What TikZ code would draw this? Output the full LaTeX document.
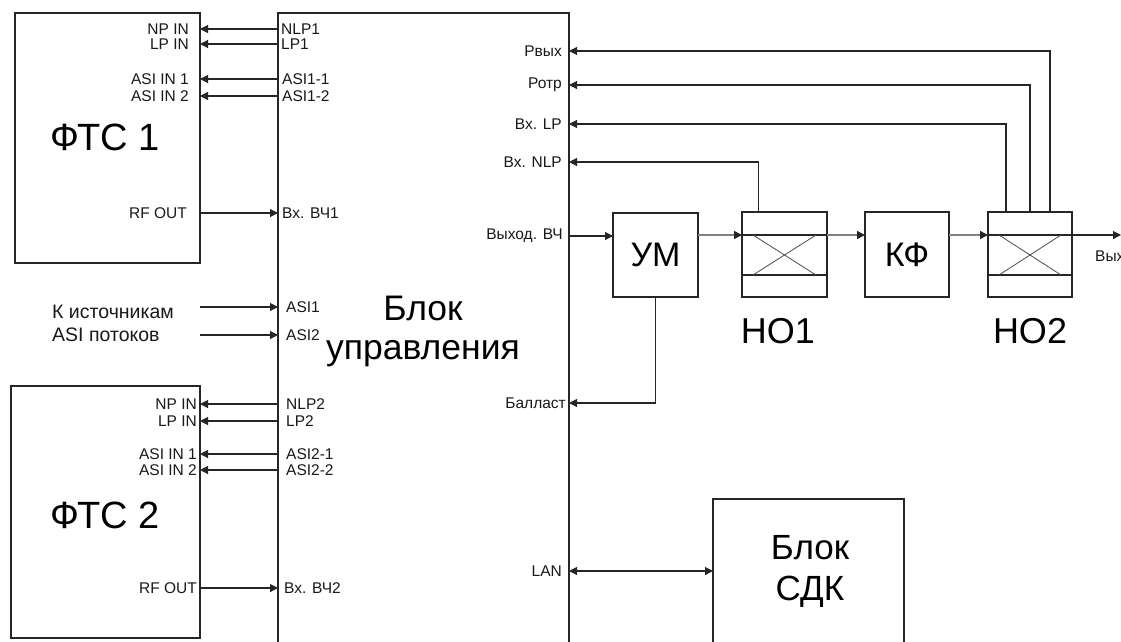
\documentclass[tikz,border=0pt]{standalone}
\usepackage{fontspec}
\setmainfont{Liberation Sans}
\usetikzlibrary{arrows.meta}
\begin{document}
\begin{tikzpicture}[x=1pt,y=-1pt,
  ln/.style={draw=black!85, line width=1.1pt},
  box/.style={draw=black!85, line width=1.1pt, inner sep=0pt, outer sep=0pt, anchor=north west},
  lbl/.style={font=\fontsize{15.5}{17}\selectfont, inner sep=0pt, text=black!90},
  mid/.style={font=\fontsize{19.5}{23}\selectfont, inner sep=0pt, text=black!90, align=left},
  big/.style={font=\fontsize{36}{39}\selectfont, align=center, inner sep=0pt, text=black},
  arr/.style={ln, -{Triangle[length=8pt,width=8pt]}},
  rf/.style={draw=gray, line width=1.6pt, -{Triangle[length=8pt,width=8pt,color=black!85]}},
  xl/.style={draw=gray!60!black, line width=0.8pt},
]
\useasboundingbox (0,0) rectangle (1121,641);
\clip (0,0) rectangle (1121,641);
\fill[white] (0,0) rectangle (1121,641);

% boxes
\node[box, minimum width=185pt, minimum height=250pt] (ftc1) at (15,13) {};
\node[big, font=\fontsize{38}{40}\selectfont] (ftc1t) at (105,137) {ФТС 1};
\node[box, minimum width=189pt, minimum height=252pt] (ftc2) at (11,386) {};
\node[big, font=\fontsize{38}{40}\selectfont] (ftc2t) at (105,515) {ФТС 2};
\node[box, minimum width=291pt, minimum height=680pt] (ctl) at (278,13) {};
\node[big, font=\fontsize{35.5}{39}\selectfont] (ctlt) at (423,331) {Блок\\управления};

\node[box, minimum width=85pt, minimum height=84pt, font=\fontsize{34}{38}\selectfont] (um) at (613,213) {УМ};
\node[box, minimum width=85pt, minimum height=85pt] (ho1) at (742,212) {};
\node[box, minimum width=84pt, minimum height=85pt, font=\fontsize{34}{38}\selectfont] (kf) at (865,212) {КФ};
\node[box, minimum width=84pt, minimum height=85pt] (ho2) at (988,212) {};
\node[box, minimum width=191pt, minimum height=200pt] (sdk) at (713,499) {};
\node[big, font=\fontsize{35}{41}\selectfont] (sdkt) at (810,571) {Блок\\СДК};

\node[big] (ho1t) at (778,331) {НО1};
\node[big] (ho2t) at (1030,331) {НО2};

\coordinate (sig) at (0,235);
% couplers inner structure
\foreach \h in {ho1,ho2}{
  \draw[ln] (\h.west |- sig) -- (\h.east |- sig);
  \draw[ln] ([yshift=-63pt]\h.north west) -- ([yshift=-63pt]\h.north east);
  \draw[xl] ([xshift=11pt,yshift=-23pt]\h.north west) -- ([xshift=-11pt,yshift=-63pt]\h.north east);
  \draw[xl] ([xshift=11pt,yshift=-63pt]\h.north west) -- ([xshift=-11pt,yshift=-23pt]\h.north east);
}

% FTC1 port labels
\node[lbl, anchor=east] (f1np) at (189,29) {NP IN};
\node[lbl, anchor=east] (f1lp) at (189,44) {LP IN};
\node[lbl, anchor=east] (f1a1) at (189,79) {ASI IN 1};
\node[lbl, anchor=east] (f1a2) at (189,96) {ASI IN 2};
\node[lbl, anchor=east] (f1rf) at (187,213) {RF OUT};
\node[lbl, anchor=west] (c1np) at (281,29) {NLP1};
\node[lbl, anchor=west] (c1lp) at (281,44) {LP1};
\node[lbl, anchor=west] (c1a1) at (282,79) {ASI1-1};
\node[lbl, anchor=west] (c1a2) at (282,96) {ASI1-2};
\node[lbl, anchor=west] (c1rf) at (282,213) {Вх. ВЧ1};

% ASI sources
\node[mid, anchor=west] (src) at (52,323) {К источникам\\ASI потоков};
\node[lbl, anchor=west] (casi1) at (286,307) {ASI1};
\node[lbl, anchor=west] (casi2) at (286,335) {ASI2};
\coordinate (s1) at (200,307);
\coordinate (s2) at (200,335);

% FTC2 port labels
\node[lbl, anchor=east] (f2np) at (197,404) {NP IN};
\node[lbl, anchor=east] (f2lp) at (197,421) {LP IN};
\node[lbl, anchor=east] (f2a1) at (197,454) {ASI IN 1};
\node[lbl, anchor=east] (f2a2) at (197,470) {ASI IN 2};
\node[lbl, anchor=east] (f2rf) at (197,588) {RF OUT};
\node[lbl, anchor=west] (c2np) at (286,404) {NLP2};
\node[lbl, anchor=west] (c2lp) at (286,421) {LP2};
\node[lbl, anchor=west] (c2a1) at (286,454) {ASI2-1};
\node[lbl, anchor=west] (c2a2) at (286,470) {ASI2-2};
\node[lbl, anchor=west] (c2rf) at (284,588) {Вх. ВЧ2};

% right side labels of control block
\node[lbl, anchor=east] (rvy) at (562,51) {Рвых};
\node[lbl, anchor=east] (rot) at (562,85) {Ротр};
\node[lbl, anchor=east] (vlp) at (562,124) {Вх. LP};
\node[lbl, anchor=east] (vnlp) at (562,162) {Вх. NLP};
\node[lbl, anchor=east] (vyh) at (563,236) {Выход. ВЧ};
\node[lbl, anchor=east] (bal) at (566,403) {Балласт};
\node[lbl, anchor=east] (lan) at (562,571) {LAN};
\node[lbl, anchor=west] (outl) at (1095,258) {Выход};
\coordinate (outp) at (1121,235);

% connectors FTC1
\draw[arr] (ctl.west |- c1np) -- (ftc1.east |- c1np);
\draw[arr] (ctl.west |- c1lp) -- (ftc1.east |- c1lp);
\draw[arr] (ctl.west |- c1a1) -- (ftc1.east |- c1a1);
\draw[arr] (ctl.west |- c1a2) -- (ftc1.east |- c1a2);
\draw[arr] (ftc1.east |- c1rf) -- (ctl.west |- c1rf);
% ASI
\draw[arr] (s1) -- (ctl.west |- s1);
\draw[arr] (s2) -- (ctl.west |- s2);
% connectors FTC2
\draw[arr] (ctl.west |- c2np) -- (ftc2.east |- c2np);
\draw[arr] (ctl.west |- c2lp) -- (ftc2.east |- c2lp);
\draw[arr] (ctl.west |- c2a1) -- (ftc2.east |- c2a1);
\draw[arr] (ctl.west |- c2a2) -- (ftc2.east |- c2a2);
\draw[arr] (ftc2.east |- c2rf) -- (ctl.west |- c2rf);

% RF chain
\draw[arr] (ctl.east |- vyh) -- (um.west |- vyh);
\draw[rf] (um.east |- sig) -- (ho1.west |- sig);
\draw[rf] (ho1.east |- sig) -- (kf.west |- sig);
\draw[rf] (kf.east |- sig) -- (ho2.west |- sig);
\draw[arr] (ho2.east |- sig) -- (outp);

% feedback lines
\draw[arr] ([xshift=20pt]ho2.north) |- (ctl.east |- rvy);
\draw[arr] (ho2.north) |- (ctl.east |- rot);
\draw[arr] ([xshift=-24pt]ho2.north) |- (ctl.east |- vlp);
\draw[arr] ([xshift=-26pt]ho1.north) |- (ctl.east |- vnlp);
\draw[arr] (um.south) |- (ctl.east |- bal);
\draw[ln, {Triangle[length=8pt,width=8pt]}-{Triangle[length=8pt,width=8pt]}] (ctl.east |- lan) -- (sdk.west |- lan);
\end{tikzpicture}
\end{document}
